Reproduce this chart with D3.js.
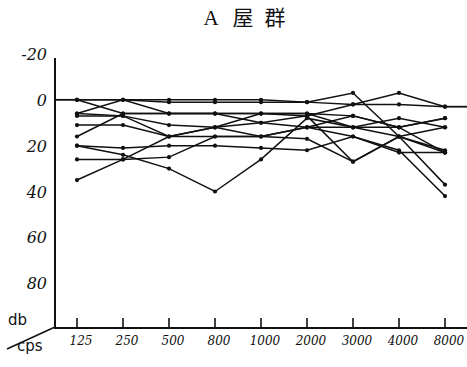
<!DOCTYPE html>
<html><head><meta charset="utf-8">
<script src="https://cdn.jsdelivr.net/npm/d3@7"></script>
<style>body{margin:0;background:#fff}svg{display:block}</style>
</head><body>
<svg id="c" width="467" height="367"></svg>
<script>
const titleParts = ["A", "屋", "群"];
const freqs = ["125","250","500","800","1000","2000","3000","4000","8000"];
const yTicks = [-20, 0, 20, 40, 60, 80];
// hearing levels (dB) per subject, one array per curve
const s1  = [0, 0, 0, 0, 0, 1, 2, 2, 3];
const s2  = [0, 0, 1, 1, 1, 1, -3, 16, 37];
const s3  = [0, 6, 6, 6, 6, 7, 2, -3, 3];
const s4  = [6, 0, 6, 6, 6, 6, 7, 12, 8];
const s5  = [7, 7, 11, 12, 10, 12, 16, 22, 42];
const s6  = [6, 7, 16, 12, 6, 6, 12, 8, 12];
const s7  = [11, 11, 16, 16, 16, 12, 7, 12, 23];
const s8  = [16, 6, 6, 6, 10, 7, 27, 16, 12];
const s9  = [20, 21, 20, 20, 21, 22, 16, 23, 23];
const s10 = [26, 26, 25, 16, 16, 17, 27, 16, 23];
const s11 = [35, 26, 16, 12, 16, 12, 12, 12, 8];
const s12 = [20, 24, 30, 40, 26, 8, 12, 16, 22];
const series = [s1,s2,s3,s4,s5,s6,s7,s8,s9,s10,s11,s12];

const svg = d3.select("#c");
const axX = 55, axY = 328;
const x = d3.scalePoint().domain(freqs).range([77, 445]);
const y = d3.scaleLinear().domain([-20, 100]).range([54, 329]);
const ink = "#111";

const tx = d3.scalePoint().domain(titleParts).range([211, 275]);
svg.selectAll(".tt").data(titleParts).enter().append("text")
  .attr("x", d=>tx(d)).attr("y", 25).attr("text-anchor","middle")
  .attr("font-family","'Liberation Serif','Noto Sans CJK JP',serif").attr("font-size",21)
  .attr("fill", ink).text(d=>d);

// axes
svg.append("line").attr("x1",axX).attr("x2",axX).attr("y1",58).attr("y2",axY+1)
  .attr("stroke",ink).attr("stroke-width",2);
svg.append("line").attr("x1",axX).attr("x2",467).attr("y1",axY).attr("y2",axY)
  .attr("stroke",ink).attr("stroke-width",2);
svg.append("line").attr("x1",axX).attr("y1",axY-1).attr("x2",7).attr("y2",349)
  .attr("stroke",ink).attr("stroke-width",1.5);
svg.append("text").attr("x",8).attr("y",325).attr("font-family","'DejaVu Sans',sans-serif")
  .attr("font-size",15).attr("fill",ink).text("db");
svg.append("text").attr("x",17).attr("y",351).attr("font-family","'DejaVu Sans',sans-serif")
  .attr("font-size",15).attr("fill",ink).text("cps");

const fontHand = "'DejaVu Serif',serif";
svg.selectAll(".yt").data(yTicks).enter().append("text")
  .attr("x",47).attr("y",d=>y(d)+6).attr("text-anchor","end")
  .attr("font-family",fontHand).attr("font-style","italic").attr("font-size",16)
  .attr("fill",ink).text(d=>d);

const xt = svg.selectAll(".xt").data(freqs).enter().append("g");
xt.append("line").attr("x1",d=>x(d)).attr("x2",d=>x(d)).attr("y1",axY-10).attr("y2",axY)
  .attr("stroke",ink).attr("stroke-width",1.6);
xt.append("text").attr("x",d=>x(d)+4).attr("y",345).attr("text-anchor","middle")
  .attr("font-family",fontHand).attr("font-style","italic").attr("font-size",12)
  .attr("fill",ink).text(d=>d);

// reference at 0 dB from the axis and beyond 8000
svg.append("line").attr("x1",axX).attr("x2",x(freqs[0])).attr("y1",y(0)).attr("y2",y(0))
  .attr("stroke",ink).attr("stroke-width",1.8);
svg.append("line").attr("x1",x(freqs[8])).attr("x2",467).attr("y1",y(s1[8])).attr("y2",y(s1[8]))
  .attr("stroke",ink).attr("stroke-width",1.8);

const line = d3.line().x((d,i)=>x(freqs[i])).y(d=>y(d));
svg.selectAll(".s").data(series).enter().append("path")
  .attr("d", d=>line(d)).attr("fill","none").attr("stroke",ink).attr("stroke-width",1.5);
series.forEach(s=>{
  svg.selectAll(null).data(s).enter().append("circle")
    .attr("cx",(d,i)=>x(freqs[i])).attr("cy",d=>y(d)).attr("r",2.1).attr("fill",ink);
});
</script>
</body></html>
